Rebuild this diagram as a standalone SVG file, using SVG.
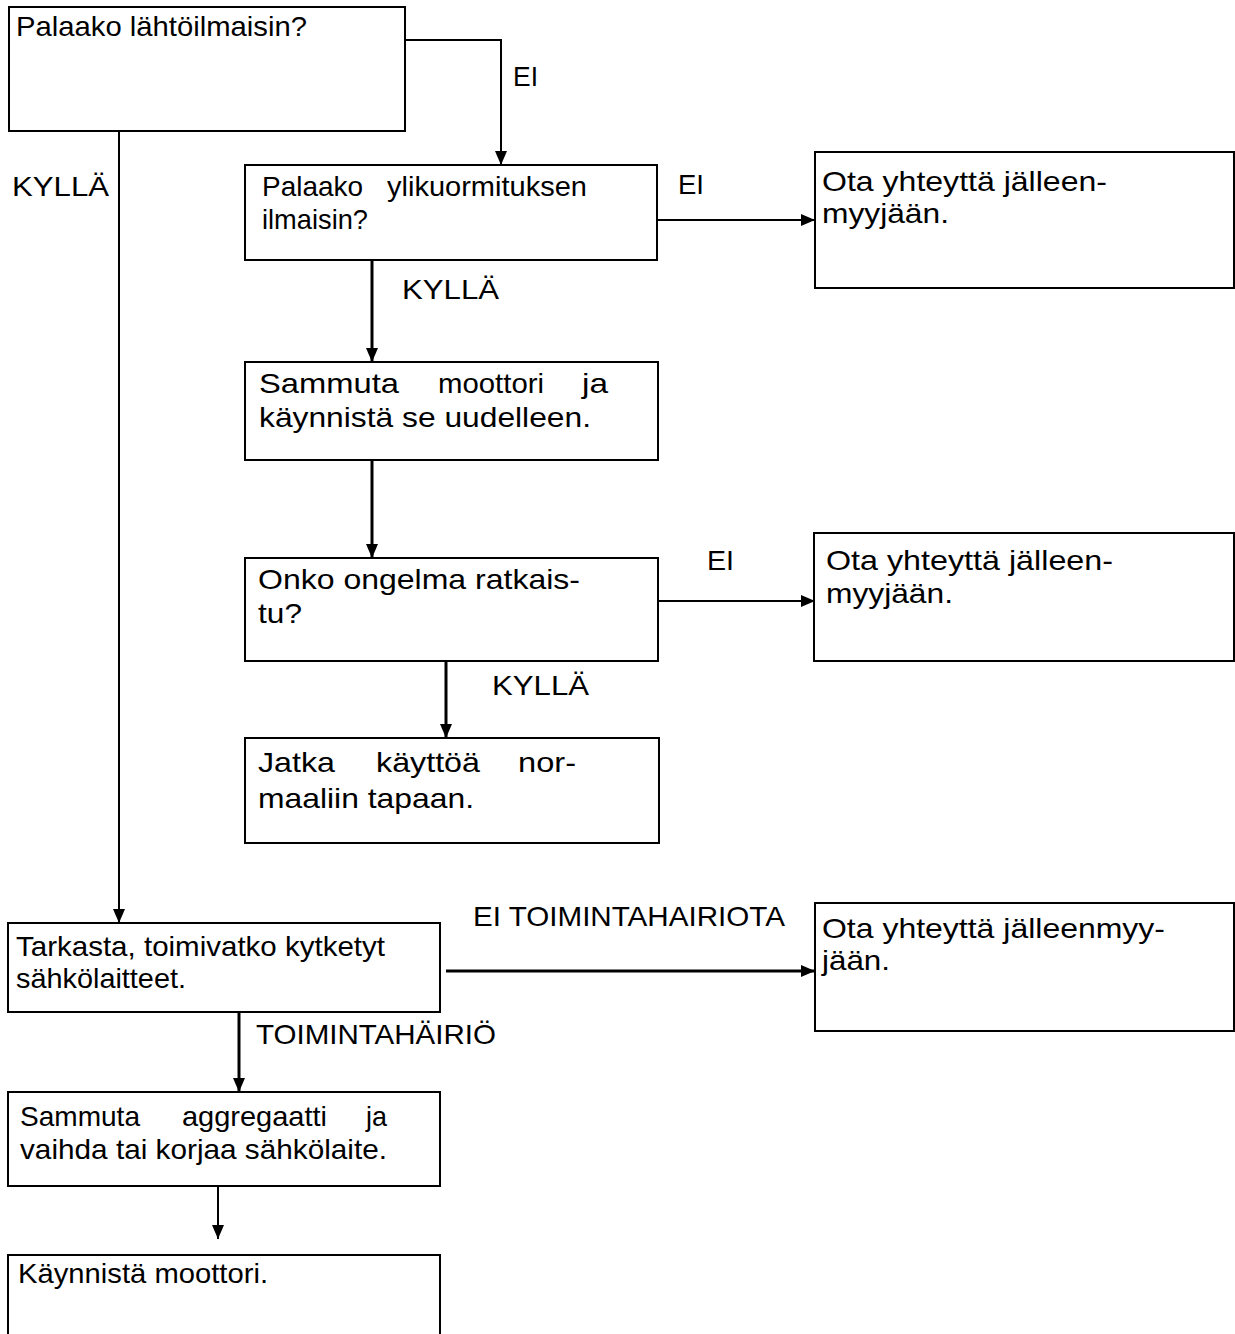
<svg xmlns="http://www.w3.org/2000/svg" width="1235" height="1334" viewBox="0 0 1235 1334">
<style>
.box{fill:#fff;stroke:#000;stroke-width:2}
.t{font-family:"Liberation Sans",Arial,sans-serif;font-size:28px;fill:#000}
.c{fill:none;stroke:#000;stroke-width:2}
.ct{fill:none;stroke:#000;stroke-width:3}
</style>
<defs>
<marker id="ah" viewBox="0 0 14 12" refX="14" refY="6" markerWidth="14" markerHeight="12" orient="auto" markerUnits="userSpaceOnUse">
<path d="M0,0 L14,6 L0,12 z" fill="#000"/>
</marker>
</defs>
<g id="connectors">
<path class="c" d="M405,40 H501 V165" marker-end="url(#ah)"/>
<path class="c" d="M119,131 V923" marker-end="url(#ah)"/>
<path class="c" d="M657,220 H815" marker-end="url(#ah)"/>
<path class="ct" d="M372,260 V362" marker-end="url(#ah)"/>
<path class="ct" d="M372,460 V558" marker-end="url(#ah)"/>
<path class="c" d="M658,601 H815" marker-end="url(#ah)"/>
<path class="ct" d="M446,661 V738" marker-end="url(#ah)"/>
<path class="ct" d="M446,971 H815" marker-end="url(#ah)"/>
<path class="ct" d="M239,1012 V1092" marker-end="url(#ah)"/>
<path class="c" d="M218,1186 V1239" marker-end="url(#ah)"/>
<text class="t" x="513" y="86" textLength="25" lengthAdjust="spacingAndGlyphs">EI</text>
<text class="t" x="12" y="196" textLength="97" lengthAdjust="spacingAndGlyphs">KYLLÄ</text>
<text class="t" x="678" y="194" textLength="26" lengthAdjust="spacingAndGlyphs">EI</text>
<text class="t" x="402" y="299" textLength="97" lengthAdjust="spacingAndGlyphs">KYLLÄ</text>
<text class="t" x="707" y="570" textLength="27" lengthAdjust="spacingAndGlyphs">EI</text>
<text class="t" x="492" y="695" textLength="97" lengthAdjust="spacingAndGlyphs">KYLLÄ</text>
<text class="t" x="473" y="926" textLength="312" lengthAdjust="spacingAndGlyphs">EI TOIMINTAHAIRIOTA</text>
<text class="t" x="256" y="1044" textLength="240" lengthAdjust="spacingAndGlyphs">TOIMINTAHÄIRIÖ</text>
</g>
<g id="n1"><rect class="box" x="9" y="7" width="396" height="124"/>
<text class="t" x="16" y="36" textLength="291" lengthAdjust="spacingAndGlyphs">Palaako lähtöilmaisin?</text></g>
<g id="n2"><rect class="box" x="245" y="165" width="412" height="95"/>
<text class="t" x="262" y="196" textLength="101" lengthAdjust="spacingAndGlyphs">Palaako</text>
<text class="t" x="387" y="196" textLength="200" lengthAdjust="spacingAndGlyphs">ylikuormituksen</text>
<text class="t" x="262" y="229" textLength="106" lengthAdjust="spacingAndGlyphs">ilmaisin?</text></g>
<g id="n3"><rect class="box" x="815" y="152" width="419" height="136"/>
<text class="t" x="822" y="191" textLength="285" lengthAdjust="spacingAndGlyphs">Ota yhteyttä jälleen-</text>
<text class="t" x="822" y="223" textLength="127" lengthAdjust="spacingAndGlyphs">myyjään.</text></g>
<g id="n4"><rect class="box" x="245" y="362" width="413" height="98"/>
<text class="t" x="259" y="393" textLength="140" lengthAdjust="spacingAndGlyphs">Sammuta</text>
<text class="t" x="438" y="393" textLength="106" lengthAdjust="spacingAndGlyphs">moottori</text>
<text class="t" x="582" y="393" textLength="26" lengthAdjust="spacingAndGlyphs">ja</text>
<text class="t" x="259" y="427" textLength="332" lengthAdjust="spacingAndGlyphs">käynnistä se uudelleen.</text></g>
<g id="n5"><rect class="box" x="245" y="558" width="413" height="103"/>
<text class="t" x="258" y="589" textLength="322" lengthAdjust="spacingAndGlyphs">Onko ongelma ratkais-</text>
<text class="t" x="258" y="623" textLength="44" lengthAdjust="spacingAndGlyphs">tu?</text></g>
<g id="n6"><rect class="box" x="814" y="533" width="420" height="128"/>
<text class="t" x="826" y="570" textLength="287" lengthAdjust="spacingAndGlyphs">Ota yhteyttä jälleen-</text>
<text class="t" x="826" y="603" textLength="127" lengthAdjust="spacingAndGlyphs">myyjään.</text></g>
<g id="n7"><rect class="box" x="245" y="738" width="414" height="105"/>
<text class="t" x="258" y="772" textLength="77" lengthAdjust="spacingAndGlyphs">Jatka</text>
<text class="t" x="376" y="772" textLength="104" lengthAdjust="spacingAndGlyphs">käyttöä</text>
<text class="t" x="518" y="772" textLength="58" lengthAdjust="spacingAndGlyphs">nor-</text>
<text class="t" x="258" y="808" textLength="216" lengthAdjust="spacingAndGlyphs">maaliin tapaan.</text></g>
<g id="n8"><rect class="box" x="8" y="923" width="432" height="89"/>
<text class="t" x="16" y="956" textLength="369" lengthAdjust="spacingAndGlyphs">Tarkasta, toimivatko kytketyt</text>
<text class="t" x="16" y="988" textLength="170" lengthAdjust="spacingAndGlyphs">sähkölaitteet.</text></g>
<g id="n9"><rect class="box" x="815" y="903" width="419" height="128"/>
<text class="t" x="822" y="938" textLength="343" lengthAdjust="spacingAndGlyphs">Ota yhteyttä jälleenmyy-</text>
<text class="t" x="822" y="970" textLength="68" lengthAdjust="spacingAndGlyphs">jään.</text></g>
<g id="n10"><rect class="box" x="8" y="1092" width="432" height="94"/>
<text class="t" x="20" y="1126" textLength="120" lengthAdjust="spacingAndGlyphs">Sammuta</text>
<text class="t" x="182" y="1126" textLength="145" lengthAdjust="spacingAndGlyphs">aggregaatti</text>
<text class="t" x="366" y="1126" textLength="21" lengthAdjust="spacingAndGlyphs">ja</text>
<text class="t" x="20" y="1159" textLength="367" lengthAdjust="spacingAndGlyphs">vaihda tai korjaa sähkölaite.</text></g>
<g id="n11"><rect class="box" x="8" y="1255" width="432" height="90"/>
<text class="t" x="18" y="1283" textLength="250" lengthAdjust="spacingAndGlyphs">Käynnistä moottori.</text></g>
</svg>
